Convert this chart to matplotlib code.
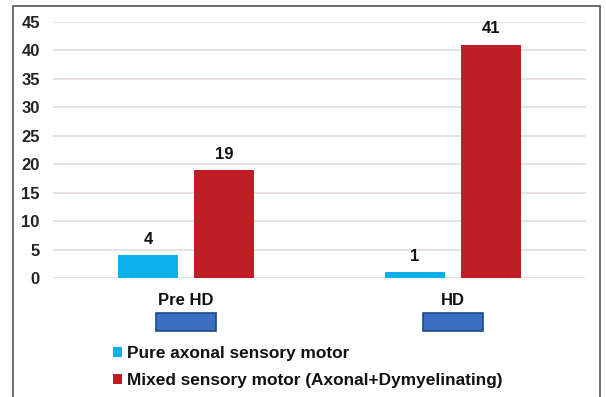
import matplotlib
matplotlib.use("Agg")
import matplotlib.pyplot as plt
from matplotlib.patches import Rectangle
import matplotlib.transforms as mtransforms

# Data
categories = ["Pre HD", "HD"]
series_names = ["Pure axonal sensory motor",
                "Mixed sensory motor (Axonal+Dymyelinating)"]
pure_axonal = [4, 1]
mixed = [19, 41]
y_ticks = [0, 5, 10, 15, 20, 25, 30, 35, 40, 45]

plt.rcParams["font.family"] = ["Liberation Sans", "DejaVu Sans"]
plt.rcParams["font.weight"] = "bold"

W, H = 606, 397
FS = 12
fig = plt.figure(figsize=(W / 100, H / 100), dpi=100)
fig.patch.set_facecolor("white")

# outer frame of the figure panel
frame = Rectangle((13 / W, -0.05), (600 - 13) / W, 1 - 6 / H + 0.05,
                  transform=fig.transFigure, fill=False,
                  edgecolor="#555555", linewidth=1.2)
fig.patches.append(frame)

left, right = 53 / W, 586 / W
bottom, top = 1 - 278 / H, 1 - 22 / H
ax = fig.add_axes([left, bottom, right - left, top - bottom])

blue = "#0cb0ea"
red = "#be1f26"
x = list(range(len(categories)))
bw = 0.225
off = 0.142

b1 = ax.bar([i - off for i in x], pure_axonal, width=bw, color=blue,
            zorder=3, label=series_names[0])
b2 = ax.bar([i + off for i in x], mixed, width=bw, color=red,
            zorder=3, label=series_names[1])

for bars, vals in ((b1, pure_axonal), (b2, mixed)):
    for rect, v in zip(bars, vals):
        ax.annotate(str(v), (rect.get_x() + rect.get_width() / 2, v),
                    xytext=(0, 6), textcoords="offset points",
                    ha="center", va="bottom", fontsize=FS,
                    fontweight="bold", color="#111111")

ax.set_xlim(-0.5, len(categories) - 0.5)
ax.set_ylim(0, 45)
ax.set_yticks(y_ticks)
ax.set_yticklabels([str(t) for t in y_ticks], fontsize=FS,
                   fontweight="bold", color="#222222")
ax.set_xticks(x)
ax.set_xticklabels(categories, fontsize=FS, fontweight="bold",
                   color="#111111")
ax.tick_params(axis="y", length=0, pad=9.5)
ax.tick_params(axis="x", length=0, pad=11)
for s in ax.spines.values():
    s.set_visible(False)
ax.grid(axis="y", color="#e9dede", linewidth=1.3, zorder=0)
ax.set_axisbelow(True)

# small blue boxes beneath each category label
trans = mtransforms.blended_transform_factory(ax.transData, fig.transFigure)
box_w = 60 / ((right - left) * W) * len(categories)
for i in x:
    r = Rectangle((i - box_w / 2, 1 - 331 / H), box_w, 18 / H,
                  transform=trans, facecolor="#3b6fc2",
                  edgecolor="#1e4a86", linewidth=1.2, clip_on=False)
    fig.patches.append(r)

leg = fig.legend(handles=[b1, b2], labels=series_names,
                 loc="upper left", bbox_to_anchor=(113 / W, 1 - 346 / H),
                 frameon=False, prop={"weight": "bold", "size": 12.4},
                 handlelength=0.5, handleheight=0.5, handletextpad=0.3,
                 labelspacing=0.7, borderpad=0, borderaxespad=0)
for t in leg.get_texts():
    t.set_color("#111111")

fig.savefig("out.png", dpi=100)
